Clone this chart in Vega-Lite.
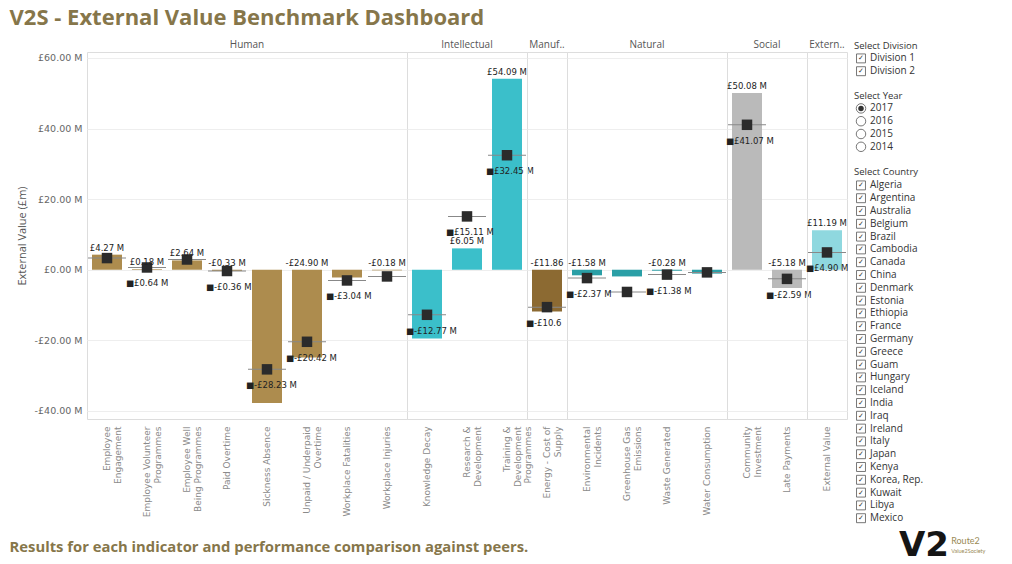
{
  "$schema": "https://vega.github.io/schema/vega-lite/v6.json",
  "background": "#ffffff",
  "padding": {"left": 9, "top": 7, "right": 0, "bottom": 0},
  "title": {"text": "V2S - External Value Benchmark Dashboard", "anchor": "start", "font": "Open Sans", "fontSize": 22, "fontWeight": "bold", "color": "#86764a", "offset": 10, "frame": "bounds"},
  "config": {
    "view": {"stroke": "#dddddd"},
    "font": "Open Sans",
    "axis": {"domain": false, "ticks": false}
  },
  "spacing": 4,
  "vconcat": [
    {
      "spacing": 5,
      "hconcat": [
        {
          "data": {"values": [
            {"capital": "Human", "indicator": "Employee\nEngagement", "value": 4.27, "peer": 3.3, "value_label": "£4.27 M", "peer_label": ""},
            {"capital": "Human", "indicator": "Employee Volunteer\nProgrammes", "value": 0.18, "peer": 0.64, "value_label": "£0.18 M", "peer_label": "■£0.64 M"},
            {"capital": "Human", "indicator": "Employee Well\nBeing Programmes", "value": 2.64, "peer": 2.9, "value_label": "£2.64 M", "peer_label": ""},
            {"capital": "Human", "indicator": "Paid Overtime", "value": -0.33, "peer": -0.36, "value_label": "-£0.33 M", "peer_label": "■-£0.36 M"},
            {"capital": "Human", "indicator": "Sickness Absence", "value": -37.8, "peer": -28.23, "value_label": "", "peer_label": "■-£28.23 M"},
            {"capital": "Human", "indicator": "Unpaid / Underpaid\nOvertime", "value": -24.9, "peer": -20.42, "value_label": "-£24.90 M", "peer_label": "■-£20.42 M"},
            {"capital": "Human", "indicator": "Workplace Fatalities", "value": -2.2, "peer": -3.04, "value_label": "", "peer_label": "■-£3.04 M"},
            {"capital": "Human", "indicator": "Workplace Injuries", "value": -0.18, "peer": -1.9, "value_label": "-£0.18 M", "peer_label": ""},
            {"capital": "Intellectual", "indicator": "Knowledge Decay", "value": -19.5, "peer": -12.77, "value_label": "", "peer_label": "■-£12.77 M"},
            {"capital": "Intellectual", "indicator": "Research &\nDevelopment", "value": 6.05, "peer": 15.11, "value_label": "£6.05 M", "peer_label": "■£15.11 M"},
            {"capital": "Intellectual", "indicator": "Training &\nDevelopment\nProgrammes", "value": 54.09, "peer": 32.45, "value_label": "£54.09 M", "peer_label": "■£32.45 M"},
            {"capital": "Manufactured", "indicator": "Energy - Cost of\nSupply", "value": -11.86, "peer": -10.6, "value_label": "-£11.86", "peer_label": "■-£10.6"},
            {"capital": "Natural", "indicator": "Environmental\nIncidents", "value": -1.58, "peer": -2.37, "value_label": "-£1.58 M", "peer_label": "■-£2.37 M"},
            {"capital": "Natural", "indicator": "Greenhouse Gas\nEmissions", "value": -1.9, "peer": -6.3, "value_label": "", "peer_label": ""},
            {"capital": "Natural", "indicator": "Waste Generated", "value": -0.28, "peer": -1.38, "value_label": "-£0.28 M", "peer_label": "■-£1.38 M"},
            {"capital": "Natural", "indicator": "Water Consumption", "value": -1.1, "peer": -0.75, "value_label": "", "peer_label": ""},
            {"capital": "Social", "indicator": "Community\nInvestment", "value": 50.08, "peer": 41.07, "value_label": "£50.08 M", "peer_label": "■£41.07 M"},
            {"capital": "Social", "indicator": "Late Payments", "value": -5.18, "peer": -2.59, "value_label": "-£5.18 M", "peer_label": "■-£2.59 M"},
            {"capital": "External", "indicator": "External Value", "value": 11.19, "peer": 4.9, "value_label": "£11.19 M", "peer_label": "■£4.90 M"}
          ]},
          "facet": {
            "column": {
              "field": "capital", "type": "nominal",
              "sort": ["Human", "Intellectual", "Manufactured", "Natural", "Social", "External"],
              "title": null,
              "header": {"labelExpr": "datum.value == 'Manufactured' ? 'Manuf..' : datum.value == 'External' ? 'Extern..' : datum.value", "labelFontSize": 10, "labelColor": "#555555", "labelPadding": 2, "labelFont": "Open Sans"}
            }
          },
          "spacing": 0,
          "bounds": "flush",
          "resolve": {"scale": {"x": "independent"}},
          "spec": {
            "width": {"step": 40},
            "height": 367,
            "encoding": {
              "x": {"field": "indicator", "type": "nominal", "title": null,
                "scale": {"paddingInner": 0.25, "paddingOuter": 0.125},
                "axis": {"labelAngle": -90, "labelExpr": "split(datum.label, '\\n')", "labelFontSize": 9, "labelColor": "#8a8a8a", "labelPadding": 7, "labelLimit": 0, "labelLineHeight": 10.5, "labelFont": "DejaVu Sans"}}
            },
            "layer": [
              {
                "mark": {"type": "bar"},
                "encoding": {
                  "y": {"field": "value", "type": "quantitative", "title": "External Value (£m)",
                    "scale": {"domain": [-42.3, 61.7], "nice": false},
                    "axis": {"values": [-40, -30, -20, -10, 0, 10, 20, 30, 40, 50, 60], "labelExpr": "(datum.value < 0 ? '-' : '') + '£' + format(abs(datum.value), '.2f') + ' M'", "labelFontSize": 9.5, "labelColor": "#666666", "labelFont": "DejaVu Sans", "gridColor": "#eeeeee", "titleFontSize": 11, "titleFontWeight": "normal", "titleColor": "#555555", "titleFont": "Open Sans", "titlePadding": 7, "labelPadding": 5}},
                  "color": {"field": "capital", "type": "nominal", "legend": null,
                    "scale": {"domain": ["Human", "Intellectual", "Manufactured", "Natural", "Social", "External"], "range": ["#ad8c4e", "#3bbfca", "#8c6a32", "#2a9fa6", "#bababa", "#8fd8df"]}}
                }
              },
              {
                "mark": {"type": "tick", "color": "#888888", "thickness": 1, "size": 38, "opacity": 1},
                "encoding": {"y": {"field": "peer", "type": "quantitative", "title": "External Value (£m)"}}
              },
              {
                "mark": {"type": "point", "shape": "square", "filled": true, "size": 110, "color": "#2b2b2b", "opacity": 1},
                "encoding": {"y": {"field": "peer", "type": "quantitative", "title": "External Value (£m)"}}
              },
              {
                "transform": [{"filter": "datum.value >= 0"}],
                "mark": {"type": "text", "baseline": "bottom", "dy": -2, "fontSize": 8.5, "font": "DejaVu Sans", "color": "#222222"},
                "encoding": {"y": {"field": "value", "type": "quantitative", "title": "External Value (£m)"}, "text": {"field": "value_label"}}
              },
              {
                "transform": [{"filter": "datum.value < 0"}],
                "mark": {"type": "text", "baseline": "bottom", "dy": -2, "fontSize": 8.5, "font": "DejaVu Sans", "color": "#222222"},
                "encoding": {"y": {"datum": 0, "type": "quantitative", "title": "External Value (£m)"}, "text": {"field": "value_label"}}
              },
              {
                "mark": {"type": "text", "align": "left", "baseline": "middle", "dx": -21, "dy": 16, "fontSize": 8.5, "font": "DejaVu Sans", "color": "#222222"},
                "encoding": {"y": {"field": "peer", "type": "quantitative", "title": "External Value (£m)"}, "text": {"field": "peer_label"}}
              }
            ]
          }
        },
        {
          "spacing": 12,
          "vconcat": [
            {
              "title": {"text": "Select Division", "anchor": "start", "fontSize": 9.5, "fontWeight": "normal", "color": "#333333", "font": "Open Sans", "offset": 2},
              "width": 14, "height": {"step": 12.8},
              "view": {"stroke": null},
              "data": {"values": [{"item": "Division 1", "checked": true}, {"item": "Division 2", "checked": true}]},
              "encoding": {"y": {"field": "item", "type": "nominal", "sort": null, "axis": null, "scale": {"type": "band", "paddingInner": 0, "paddingOuter": 0}}},
              "layer": [
                {"mark": {"type": "point", "shape": "square", "size": 80, "filled": true, "fill": "#ffffff", "stroke": "#555555", "strokeWidth": 0.8, "opacity": 1}},
                {"mark": {"type": "text", "fontSize": 7, "font": "DejaVu Sans", "color": "#333333"}, "encoding": {"text": {"condition": {"test": "datum.checked", "value": "✓"}, "value": ""}}},
                {"mark": {"type": "text", "align": "left", "dx": 9, "fontSize": 10, "font": "Open Sans", "color": "#333333"}, "encoding": {"text": {"field": "item"}}}
              ]
            },
            {
              "title": {"text": "Select Year", "anchor": "start", "fontSize": 9.5, "fontWeight": "normal", "color": "#333333", "font": "Open Sans", "offset": 2},
              "width": 14, "height": {"step": 12.8},
              "view": {"stroke": null},
              "data": {"values": [{"item": "2017", "selected": true}, {"item": "2016", "selected": false}, {"item": "2015", "selected": false}, {"item": "2014", "selected": false}]},
              "encoding": {"y": {"field": "item", "type": "nominal", "sort": null, "axis": null, "scale": {"type": "band", "paddingInner": 0, "paddingOuter": 0}}},
              "layer": [
                {"mark": {"type": "point", "shape": "circle", "size": 90, "filled": true, "fill": "#ffffff", "stroke": "#555555", "strokeWidth": 0.8, "opacity": 1}},
                {"transform": [{"filter": "datum.selected"}], "mark": {"type": "point", "shape": "circle", "size": 30, "filled": true, "color": "#333333", "opacity": 1}},
                {"mark": {"type": "text", "align": "left", "dx": 9, "fontSize": 10, "font": "Open Sans", "color": "#333333"}, "encoding": {"text": {"field": "item"}}}
              ]
            },
            {
              "title": {"text": "Select Country", "anchor": "start", "fontSize": 9.5, "fontWeight": "normal", "color": "#333333", "font": "Open Sans", "offset": 3},
              "width": 14, "height": {"step": 12.8},
              "view": {"stroke": null},
              "data": {"values": [
                {"item": "Algeria", "checked": true}, {"item": "Argentina", "checked": true}, {"item": "Australia", "checked": true},
                {"item": "Belgium", "checked": true}, {"item": "Brazil", "checked": true}, {"item": "Cambodia", "checked": true},
                {"item": "Canada", "checked": true}, {"item": "China", "checked": true}, {"item": "Denmark", "checked": true},
                {"item": "Estonia", "checked": true}, {"item": "Ethiopia", "checked": true}, {"item": "France", "checked": true},
                {"item": "Germany", "checked": true}, {"item": "Greece", "checked": true}, {"item": "Guam", "checked": true},
                {"item": "Hungary", "checked": true}, {"item": "Iceland", "checked": true}, {"item": "India", "checked": true},
                {"item": "Iraq", "checked": true}, {"item": "Ireland", "checked": true}, {"item": "Italy", "checked": true},
                {"item": "Japan", "checked": true}, {"item": "Kenya", "checked": true}, {"item": "Korea, Rep.", "checked": true},
                {"item": "Kuwait", "checked": true}, {"item": "Libya", "checked": true}, {"item": "Mexico", "checked": true}
              ]},
              "encoding": {"y": {"field": "item", "type": "nominal", "sort": null, "axis": null, "scale": {"type": "band", "paddingInner": 0, "paddingOuter": 0}}},
              "layer": [
                {"mark": {"type": "point", "shape": "square", "size": 80, "filled": true, "fill": "#ffffff", "stroke": "#555555", "strokeWidth": 0.8, "opacity": 1}},
                {"mark": {"type": "text", "fontSize": 7, "font": "DejaVu Sans", "color": "#333333"}, "encoding": {"text": {"condition": {"test": "datum.checked", "value": "✓"}, "value": ""}}},
                {"mark": {"type": "text", "align": "left", "dx": 9, "fontSize": 10, "font": "Open Sans", "color": "#333333"}, "encoding": {"text": {"field": "item"}}}
              ]
            }
          ]
        }
      ]
    },
    {
      "width": 880, "height": 30,
      "view": {"stroke": null},
      "data": {"values": [{"caption": "Results for each indicator and performance comparison against peers.", "logo": "V2", "brand": "Route2", "tagline": "Value2Society"}]},
      "layer": [
        {"mark": {"type": "text", "align": "left", "font": "Open Sans", "fontSize": 14.8, "fontWeight": "bold", "color": "#86764a", "dy": -2},
          "encoding": {"x": {"datum": -0.088, "type": "quantitative", "scale": {"domain": [0, 1], "nice": false, "zero": false}, "axis": null}, "text": {"field": "caption"}}},
        {"mark": {"type": "text", "align": "center", "font": "DejaVu Sans", "fontSize": 34, "fontWeight": "bold", "color": "#151515", "dy": -4},
          "encoding": {"x": {"datum": 0.951, "type": "quantitative"}, "text": {"field": "logo"}}},
        {"mark": {"type": "text", "align": "left", "font": "Lato", "fontSize": 9, "color": "#9a8a55", "dy": -9},
          "encoding": {"x": {"datum": 0.982, "type": "quantitative"}, "text": {"field": "brand"}}},
        {"mark": {"type": "text", "align": "left", "font": "Lato", "fontSize": 5.5, "color": "#9a8a55", "dy": 1},
          "encoding": {"x": {"datum": 0.982, "type": "quantitative"}, "text": {"field": "tagline"}}}
      ]
    }
  ]
}
